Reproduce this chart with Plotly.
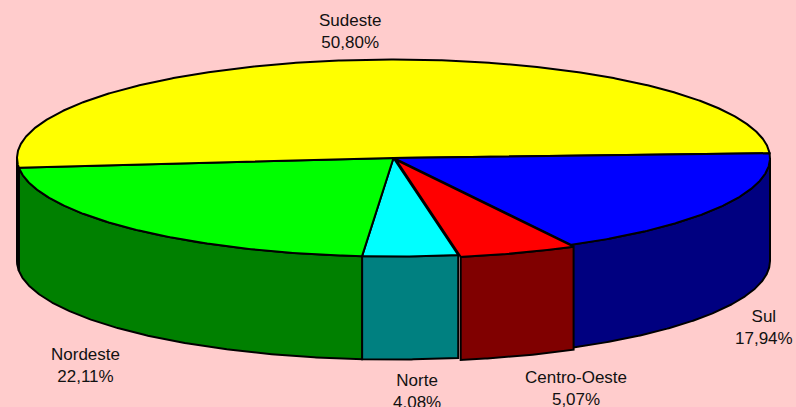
import numpy as np
import plotly.graph_objects as go

# ---- data (natural order, drawn clockwise) ----
regions = ["Norte", "Nordeste", "Sudeste", "Sul", "Centro-Oeste"]
shares = [4.08, 22.11, 50.80, 17.94, 5.07]

# ---- styles ----
top_colors = ["#00FFFF", "#00FF00", "#FFFF00", "#0000FF", "#FF0000"]
side_colors = ["#008080", "#008000", "#808000", "#000080", "#800000"]
pulls = [0, 0, 0, 0, 0.02]
label_pos = [(417, 391), (85, 365), (350, 31), (764, 327), (576, 388)]

# ---- geometry (pixels) ----
W, H = 796, 407
CX, CY = 393.5, 158.0
RX, RY = 376.5, 98.5
DEPTH = 103
START = 279.9  # math angle where first slice begins, going clockwise


def ell(theta_deg, dy=0.0, ox=0.0, oy=0.0):
    t = np.radians(theta_deg)
    return CX + ox + RX * np.cos(t), CY + oy - RY * np.sin(t) + dy


total = sum(shares)
spans = [s / total * 360 for s in shares]

fig = go.Figure()

# slice ranges (ccw lo..hi)
ranges = []
a = START
for sp in spans:
    ranges.append((a - sp, a))
    a -= sp

offsets = []
for (lo, hi), p in zip(ranges, pulls):
    m = np.radians((lo + hi) / 2)
    offsets.append((p * RX * np.cos(m), -p * RY * np.sin(m)))

LINE = dict(color="black", width=2)

# sides: visible where angle in [180, 360] (mod 360)
for (lo, hi), col, (ox, oy) in zip(ranges, side_colors, offsets):
    for shift in (-360, 0, 360):
        l2 = max(lo + shift, 180)
        h2 = min(hi + shift, 360)
        if h2 - l2 > 0.01:
            th = np.linspace(l2, h2, max(3, int((h2 - l2) * 3)))
            xt, yt = ell(th, 0, ox, oy)
            xb, yb = ell(th[::-1], DEPTH, ox, oy)
            xs = np.concatenate([xt, xb, xt[:1]])
            ys = np.concatenate([yt, yb, yt[:1]])
            fig.add_trace(go.Scatter(x=xs, y=ys, mode="lines", fill="toself",
                                     fillcolor=col, line=LINE,
                                     hoverinfo="skip", showlegend=False))

# top faces
for (lo, hi), col, (ox, oy) in zip(ranges, top_colors, offsets):
    th = np.linspace(lo, hi, max(3, int((hi - lo) * 3)))
    xa, ya = ell(th, 0, ox, oy)
    xs = np.concatenate([[CX + ox], xa, [CX + ox]])
    ys = np.concatenate([[CY + oy], ya, [CY + oy]])
    fig.add_trace(go.Scatter(x=xs, y=ys, mode="lines", fill="toself",
                             fillcolor=col, line=LINE,
                             hoverinfo="skip", showlegend=False))

# labels
for name, val, (lx, ly) in zip(regions, shares, label_pos):
    txt = f"{name}<br>{val:.2f}%".replace(".", ",")
    fig.add_annotation(x=lx, y=ly, text=txt, showarrow=False,
                       xanchor="center", yanchor="middle",
                       font=dict(family="Liberation Sans, Arial", size=17, color="#111111"))

fig.update_xaxes(range=[0, W], visible=False, fixedrange=True)
fig.update_yaxes(range=[H, 0], visible=False, fixedrange=True)
fig.update_layout(width=W, height=H, margin=dict(l=0, r=0, t=0, b=0),
                  paper_bgcolor="#FFCCCC", plot_bgcolor="#FFCCCC")

fig.write_html("out.html", config={"displayModeBar": False},
               post_script="document.body.style.margin='0';document.body.style.overflow='hidden';")
